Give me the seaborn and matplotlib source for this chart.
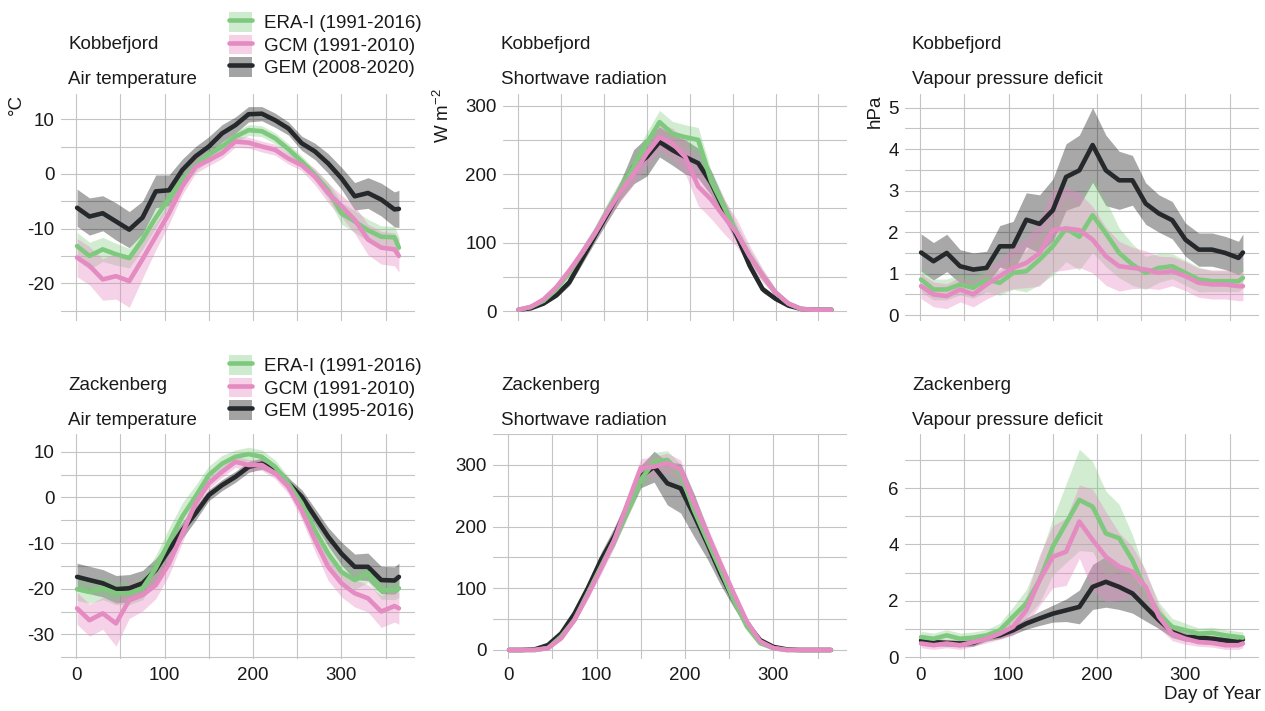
import numpy as np
import pandas as pd
import matplotlib
matplotlib.use("Agg")
import matplotlib.pyplot as plt
import seaborn as sns
from matplotlib.patches import Patch
from matplotlib.lines import Line2D
from matplotlib.ticker import MultipleLocator

# ---------------- data ----------------
days = [1, 15, 30, 45, 60, 75, 90, 105, 120, 135, 150, 165, 180, 195, 210,
        225, 240, 255, 270, 285, 300, 315, 330, 345, 360, 365]

sources = ["GEM", "ERA-I", "GCM"]

# Kobbefjord - air temperature (deg C)
kob_tair_era = [-13.2, -15.0, -13.8, -14.7, -15.4, -12.0, -8.0, -4.5, -1.2, 1.5, 3.5, 5.0, 6.8, 8.0, 7.8,
                6.5, 4.5, 2.3, -0.2, -3.0, -7.2, -8.7, -10.3, -11.5, -11.6, -13.5]
kob_tair_era_sd = [2.5, 2.5, 2.2, 2.0, 1.8, 1.8, 1.8, 1.5, 1.2, 1.0, 1.0, 1.0, 1.0, 1.0, 1.0,
                   1.0, 1.0, 1.0, 1.0, 1.5, 2.0, 2.0, 2.0, 2.0, 2.0, 2.0]
kob_tair_gcm = [-15.3, -16.8, -19.3, -18.7, -19.6, -15.6, -11.4, -7.2, -2.3, 1.3, 2.5, 3.8, 5.9, 5.7, 5.0,
                4.4, 2.8, 1.6, -0.5, -3.5, -5.9, -8.4, -12.0, -13.5, -13.8, -15.0]
kob_tair_gcm_sd = [3.5, 3.5, 3.8, 4.2, 4.8, 3.5, 2.5, 2.0, 1.5, 1.2, 1.0, 1.0, 1.0, 1.0, 1.0,
                   1.0, 1.0, 1.0, 1.5, 1.8, 2.0, 2.5, 2.8, 3.0, 3.0, 3.0]
kob_tair_gem = [-6.2, -7.8, -7.2, -8.7, -10.2, -8.0, -3.2, -3.0, 0.7, 3.2, 5.0, 7.4, 8.9, 10.9, 11.0,
                9.8, 8.3, 5.6, 4.1, 1.9, -0.8, -4.1, -3.5, -4.7, -6.5, -6.4]
kob_tair_gem_sd = [3.4, 3.4, 3.2, 3.4, 3.3, 3.0, 3.0, 2.8, 2.0, 1.8, 1.8, 1.6, 1.5, 1.4, 1.3,
                   1.3, 1.2, 1.3, 1.5, 1.8, 2.0, 2.5, 2.8, 3.0, 3.2, 3.4]

# Kobbefjord - shortwave radiation (W m-2)
kob_sw_era = [2, 6, 15, 32, 56, 85, 114, 148, 179, 211, 245, 276, 259, 254, 250,
              190, 152, 114, 80, 52, 27, 11, 3, 2, 2, 2]
kob_sw_era_sd = [1, 2, 3, 5, 7, 9, 10, 12, 14, 15, 16, 17, 18, 18, 18,
                 16, 14, 12, 10, 8, 5, 3, 1, 1, 1, 1]
kob_sw_gcm = [2, 6, 17, 35, 59, 85, 114, 146, 175, 201, 230, 254, 245, 225, 182,
              163, 138, 114, 80, 52, 27, 11, 3, 2, 2, 2]
kob_sw_gcm_sd = [1, 2, 3, 5, 7, 9, 10, 12, 14, 16, 18, 20, 22, 25, 28,
                 28, 25, 20, 15, 10, 6, 3, 1, 1, 1, 1]
kob_sw_gem = [2, 4, 11, 23, 42, 76, 110, 143, 177, 211, 225, 247, 235, 225, 216,
              187, 148, 110, 66, 32, 18, 8, 3, 2, 2, 2]
kob_sw_gem_sd = [1, 1, 2, 3, 5, 7, 9, 11, 14, 25, 28, 22, 22, 25, 22,
                 18, 14, 10, 7, 5, 3, 2, 1, 1, 1, 1]

# Kobbefjord - vapour pressure deficit (hPa)
kob_vpd_era = [0.86, 0.62, 0.62, 0.74, 0.66, 0.86, 0.78, 1.02, 1.06, 1.34, 1.66, 2.09, 1.89, 2.41, 1.97,
               1.50, 1.22, 1.02, 1.14, 1.18, 1.02, 0.86, 0.82, 0.82, 0.82, 0.90]
kob_vpd_era_sd = [0.3, 0.25, 0.25, 0.25, 0.25, 0.3, 0.3, 0.4, 0.5, 0.6, 0.7, 0.8, 0.8, 0.9, 0.8,
                  0.6, 0.5, 0.4, 0.35, 0.3, 0.3, 0.3, 0.25, 0.25, 0.25, 0.25]
kob_vpd_gcm = [0.70, 0.50, 0.46, 0.62, 0.50, 0.74, 0.94, 1.14, 1.26, 1.50, 2.05, 2.09, 2.05, 1.82, 1.42,
               1.18, 1.14, 1.10, 1.02, 1.06, 0.94, 0.78, 0.74, 0.74, 0.70, 0.70]
kob_vpd_gcm_sd = [0.3, 0.3, 0.3, 0.3, 0.3, 0.35, 0.4, 0.5, 0.6, 0.8, 1.0, 1.0, 0.9, 0.8, 0.7,
                  0.6, 0.5, 0.45, 0.4, 0.35, 0.35, 0.35, 0.35, 0.35, 0.35, 0.35]
kob_vpd_gem = [1.51, 1.30, 1.50, 1.18, 1.10, 1.14, 1.66, 1.66, 2.30, 2.20, 2.53, 3.33, 3.49, 4.10, 3.49,
               3.25, 3.25, 2.69, 2.45, 2.29, 1.82, 1.58, 1.58, 1.50, 1.38, 1.51]
kob_vpd_gem_sd = [0.45, 0.45, 0.45, 0.4, 0.4, 0.4, 0.5, 0.6, 0.65, 0.7, 0.75, 0.8, 0.85, 0.9, 0.85,
                  0.7, 0.6, 0.5, 0.45, 0.45, 0.4, 0.4, 0.4, 0.4, 0.4, 0.45]

# Zackenberg - air temperature (deg C)
zac_tair_era = [-20.1, -20.7, -19.9, -21.0, -21.0, -19.9, -15.5, -9.7, -4.2, 0.2, 4.9, 7.4, 8.9, 9.5, 8.9,
                6.7, 3.1, -1.3, -7.2, -12.3, -16.3, -18.1, -16.6, -20.3, -20.4, -19.9]
zac_tair_era_sd = [2.5, 2.5, 2.5, 2.5, 2.5, 2.5, 2.8, 3.0, 3.0, 2.5, 2.0, 1.8, 1.5, 1.5, 1.5,
                   1.5, 1.5, 1.5, 1.8, 2.0, 2.0, 2.0, 2.0, 2.0, 2.0, 2.0]
zac_tair_gcm = [-24.3, -26.9, -25.4, -27.6, -22.5, -21.4, -19.2, -14.5, -7.9, -1.3, 3.1, 5.6, 7.8, 7.1, 7.1,
                5.3, 2.3, -2.8, -9.3, -15.2, -18.8, -21.0, -22.1, -25.0, -23.8, -24.3]
zac_tair_gcm_sd = [3.5, 3.5, 3.5, 5.0, 4.0, 3.5, 3.0, 2.5, 2.0, 1.5, 1.2, 1.2, 1.2, 1.2, 1.2,
                   1.2, 1.5, 2.0, 2.5, 3.0, 3.0, 3.0, 3.0, 3.5, 3.5, 3.5]
zac_tair_gem = [-17.4, -18.1, -18.8, -20.1, -19.9, -18.8, -15.9, -11.5, -7.2, -3.5, 0.5, 2.7, 4.5, 6.7, 7.4,
                6.0, 3.1, 0.2, -4.2, -8.6, -12.3, -15.2, -15.2, -18.1, -18.2, -17.4]
zac_tair_gem_sd = [3.0, 3.0, 3.0, 3.0, 3.0, 2.8, 2.5, 2.0, 1.8, 1.5, 1.2, 1.2, 1.2, 1.2, 1.2,
                   1.2, 1.2, 1.5, 1.8, 2.0, 2.5, 2.8, 3.0, 3.0, 3.0, 3.0]

# Zackenberg - shortwave radiation (W m-2)
zac_sw_era = [0, 0, 0, 3, 22, 49, 92, 135, 178, 227, 276, 305, 308, 286, 227,
              178, 130, 81, 38, 11, 3, 0, 0, 0, 0, 0]
zac_sw_era_sd = [0.5, 0.5, 0.5, 1, 3, 5, 7, 9, 11, 13, 15, 15, 15, 15, 12,
                 10, 8, 6, 4, 2, 1, 0.5, 0.5, 0.5, 0.5, 0.5]
zac_sw_gcm = [0, 0, 0, 3, 19, 49, 89, 132, 178, 238, 295, 297, 303, 292, 238,
              189, 140, 92, 46, 14, 3, 0, 0, 0, 0, 0]
zac_sw_gcm_sd = [0.5, 0.5, 0.5, 1, 3, 5, 7, 9, 11, 13, 15, 16, 16, 16, 14,
                 12, 10, 7, 5, 3, 1, 0.5, 0.5, 0.5, 0.5, 0.5]
zac_sw_gem = [0, 0, 1, 8, 27, 59, 100, 146, 184, 232, 281, 297, 270, 262, 219,
              173, 124, 81, 43, 16, 5, 1, 0, 0, 0, 0]
zac_sw_gem_sd = [0.5, 0.5, 0.5, 1, 3, 6, 8, 12, 15, 15, 18, 25, 35, 40, 35,
                 25, 18, 12, 8, 4, 2, 1, 0.5, 0.5, 0.5, 0.5]

# Zackenberg - vapour pressure deficit (hPa)
zac_vpd_era = [0.71, 0.65, 0.77, 0.65, 0.69, 0.77, 0.95, 1.43, 1.90, 2.73, 3.92, 4.75, 5.58, 5.34, 4.39,
               4.22, 3.44, 2.38, 1.54, 1.07, 0.95, 0.83, 0.86, 0.77, 0.71, 0.69]
zac_vpd_era_sd = [0.2, 0.2, 0.2, 0.2, 0.2, 0.2, 0.25, 0.35, 0.5, 0.8, 1.0, 1.4, 1.8, 1.6, 1.5,
                  1.2, 0.9, 0.6, 0.4, 0.3, 0.25, 0.2, 0.2, 0.2, 0.2, 0.2]
zac_vpd_gcm = [0.48, 0.42, 0.48, 0.42, 0.53, 0.65, 0.83, 1.07, 1.66, 2.73, 3.56, 3.74, 4.81, 4.16, 3.56,
               3.21, 3.03, 2.49, 1.43, 0.83, 0.65, 0.53, 0.50, 0.42, 0.42, 0.48]
zac_vpd_gcm_sd = [0.15, 0.15, 0.15, 0.15, 0.15, 0.15, 0.2, 0.3, 0.5, 0.9, 1.1, 1.2, 1.3, 1.8, 1.6,
                  1.2, 0.9, 0.6, 0.4, 0.25, 0.2, 0.15, 0.15, 0.15, 0.15, 0.15]
zac_vpd_gem = [0.59, 0.53, 0.50, 0.48, 0.50, 0.69, 0.77, 0.95, 1.19, 1.37, 1.54, 1.66, 1.78, 2.49, 2.67,
               2.49, 2.26, 1.78, 1.31, 0.89, 0.71, 0.69, 0.65, 0.59, 0.53, 0.62]
zac_vpd_gem_sd = [0.12, 0.12, 0.12, 0.12, 0.12, 0.12, 0.12, 0.15, 0.2, 0.25, 0.3, 0.4, 0.6, 0.8, 0.9,
                  0.8, 0.7, 0.5, 0.3, 0.2, 0.15, 0.12, 0.12, 0.12, 0.12, 0.12]

legend_kob = ["ERA-I (1991-2016)", "GCM (1991-2010)", "GEM (2008-2020)"]
legend_zac = ["ERA-I (1991-2016)", "GCM (1991-2010)", "GEM (1995-2016)"]
x_ticks = [0, 100, 200, 300]

# ---------------- style ----------------
sns.set_theme(style="whitegrid")
plt.rcParams["font.family"] = ["Liberation Sans", "DejaVu Sans"]
plt.rcParams["mathtext.fontset"] = "custom"
plt.rcParams["mathtext.rm"] = "Liberation Sans"
plt.rcParams["axes.unicode_minus"] = False

line_col = {"ERA-I": "#7fc97f", "GCM": "#e48bc1", "GEM": "#26292b"}
fill_col = {"ERA-I": "#7fc97f", "GCM": "#e78ac3", "GEM": "#1a1a1a"}
fill_alpha = {"ERA-I": 0.35, "GCM": 0.38, "GEM": 0.38}
grid_col = "#c4c4c4"
text_col = "#1a1a1a"
FS = 13.5

W, H = 1265, 711
fig = plt.figure(figsize=(W / 100, H / 100), dpi=100)


def rect(l, r, t, b):
    return [l / W, 1 - b / H, (r - l) / W, (b - t) / H]


panels = [
    dict(r=rect(61, 415, 94, 321), ylim=(-26.9, 14.6), major=10, minor=5,
         data={"ERA-I": (kob_tair_era, kob_tair_era_sd), "GCM": (kob_tair_gcm, kob_tair_gcm_sd),
               "GEM": (kob_tair_gem, kob_tair_gem_sd)},
         title=("Kobbefjord", "Air temperature"), tx=68, ty=(49, 84), bottom=False),
    dict(r=rect(503, 847, 94, 321), ylim=(-14.5, 317), major=100, minor=50,
         data={"ERA-I": (kob_sw_era, kob_sw_era_sd), "GCM": (kob_sw_gcm, kob_sw_gcm_sd),
               "GEM": (kob_sw_gem, kob_sw_gem_sd)},
         title=("Kobbefjord", "Shortwave radiation"), tx=501, ty=(49, 84), bottom=False),
    dict(r=rect(905, 1259, 94, 321), ylim=(-0.14, 5.33), major=1, minor=0.5,
         data={"ERA-I": (kob_vpd_era, kob_vpd_era_sd), "GCM": (kob_vpd_gcm, kob_vpd_gcm_sd),
               "GEM": (kob_vpd_gem, kob_vpd_gem_sd)},
         title=("Kobbefjord", "Vapour pressure deficit"), tx=912, ty=(49, 84), bottom=False),
    dict(r=rect(61, 415, 434, 659), ylim=(-35.4, 13.9), major=10, minor=5,
         data={"ERA-I": (zac_tair_era, zac_tair_era_sd), "GCM": (zac_tair_gcm, zac_tair_gcm_sd),
               "GEM": (zac_tair_gem, zac_tair_gem_sd)},
         title=("Zackenberg", "Air temperature"), tx=68, ty=(390, 425), bottom=True),
    dict(r=rect(493, 847, 434, 659), ylim=(-14.6, 350), major=100, minor=50,
         data={"ERA-I": (zac_sw_era, zac_sw_era_sd), "GCM": (zac_sw_gcm, zac_sw_gcm_sd),
               "GEM": (zac_sw_gem, zac_sw_gem_sd)},
         title=("Zackenberg", "Shortwave radiation"), tx=501, ty=(390, 425), bottom=True),
    dict(r=rect(905, 1259, 434, 659), ylim=(-0.07, 7.92), major=2, minor=1,
         data={"ERA-I": (zac_vpd_era, zac_vpd_era_sd), "GCM": (zac_vpd_gcm, zac_vpd_gcm_sd),
               "GEM": (zac_vpd_gem, zac_vpd_gem_sd)},
         title=("Zackenberg", "Vapour pressure deficit"), tx=912, ty=(390, 425), bottom=True),
]

axes = []
for p in panels:
    ax = fig.add_axes(p["r"])
    ax.set_facecolor("white")
    for src in sources:
        vals, sd = p["data"][src]
        v = np.asarray(vals, dtype=float)
        s = np.asarray(sd, dtype=float)
        ax.fill_between(days, v - s, v + s, color=fill_col[src], alpha=fill_alpha[src],
                        linewidth=0, zorder=2)
        df = pd.DataFrame({"day": days, "value": v})
        sns.lineplot(data=df, x="day", y="value", color=line_col[src], linewidth=3.3,
                     ax=ax, zorder=3)
    ax.set_xlim(-17.2, 383.2)
    ax.set_ylim(*p["ylim"])
    ax.set_xlabel("")
    ax.set_ylabel("")
    ax.xaxis.set_major_locator(MultipleLocator(100))
    ax.xaxis.set_minor_locator(MultipleLocator(50))
    ax.yaxis.set_major_locator(MultipleLocator(p["major"]))
    ax.yaxis.set_minor_locator(MultipleLocator(p["minor"]))
    ax.grid(True, which="both", color=grid_col, linewidth=0.8)
    ax.set_axisbelow(True)
    for sp in ax.spines.values():
        sp.set_visible(False)
    ax.tick_params(axis="both", which="both", length=0, labelsize=FS, colors=text_col)
    ax.tick_params(axis="y", pad=4.5)
    ax.tick_params(axis="x", pad=6.0)
    if not p["bottom"]:
        ax.set_xticklabels([])
    else:
        ax.set_xticks(x_ticks)
        ax.set_xticklabels([str(t) for t in x_ticks])
    fig.text(p["tx"] / W, 1 - p["ty"][0] / H, p["title"][0], fontsize=FS, color=text_col,
             ha="left", va="baseline")
    fig.text(p["tx"] / W, 1 - p["ty"][1] / H, p["title"][1], fontsize=FS, color=text_col,
             ha="left", va="baseline")
    axes.append(ax)

# y-axis unit labels (top row only)
fig.text(16 / W, 1 - 94 / H, "°C", rotation=90, fontsize=FS, color=text_col, ha="center", va="top")
fig.text(443 / W, 1 - 88 / H, r"W m$^\mathregular{-2}$", rotation=90, fontsize=FS, color=text_col,
         ha="center", va="top")
fig.text(875 / W, 1 - 95 / H, "hPa", rotation=90, fontsize=FS, color=text_col, ha="center", va="top")

# x-axis label
fig.text(1261 / W, 1 - 699 / H, "Day of Year", fontsize=FS, color=text_col, ha="right", va="baseline")


def make_handles():
    hs = []
    for src in ["ERA-I", "GCM", "GEM"]:
        hs.append((Patch(facecolor=fill_col[src], alpha=fill_alpha[src] + 0.02, edgecolor="none"),
                   Line2D([], [], color=line_col[src], linewidth=3.3)))
    return hs


for ax, labels, top in [(axes[0], legend_kob, 12), (axes[3], legend_zac, 355)]:
    ax.legend(make_handles(), labels, loc="upper left",
              bbox_to_anchor=(229 / W, 1 - top / H), bbox_transform=fig.transFigure,
              frameon=False, borderpad=0, borderaxespad=0, fontsize=FS,
              handlelength=1.24, handleheight=1.24, handletextpad=0.6, labelspacing=0.13,
              labelcolor=text_col)

fig.savefig("out.png", dpi=100, facecolor="white")
